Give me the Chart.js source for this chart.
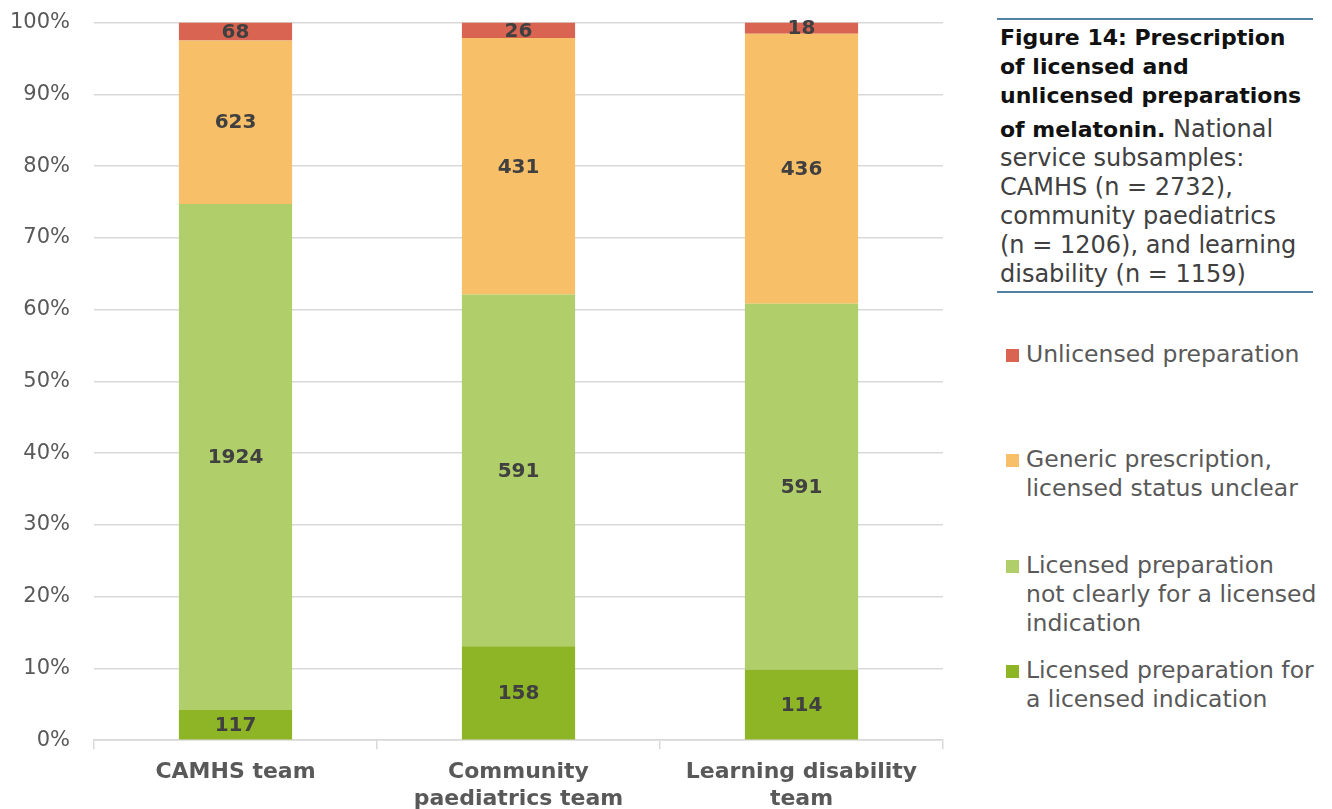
<!DOCTYPE html>
<html>
<head>
<meta charset="utf-8">
<script src="https://cdn.jsdelivr.net/npm/chart.js@4/dist/chart.umd.min.js"></script>
<style>
  html, body { margin: 0; padding: 0; background: #fff; overflow: hidden; }
  body { width: 1332px; height: 809px; position: relative; font-family: "DejaVu Sans", sans-serif; }
  #wrap { position: absolute; left: 0; top: -14px; width: 960px; height: 836px; }
  #caption { position: absolute; left: 997px; top: 18px; width: 313px; border-top: 2px solid #5383a2; border-bottom: 2px solid #5383a2; padding: 3px 0 2px 3px; line-height: 29px; color: #404040; font-size: 24px; white-space: nowrap; }
  #caption .head { font-size: 22px; font-weight: bold; color: #111; margin-bottom: 5px; }
  #caption b { font-size: 22px; color: #111; }
  #legend { position: absolute; left: 1006px; top: 0; }
  .item { position: absolute; left: 0; width: 330px; font-size: 23.5px; line-height: 29px; color: #595959; }
  .item span.sw { position: absolute; left: 0; top: 9px; width: 13px; height: 13px; }
  .item div { margin-left: 20px; white-space: nowrap; }
</style>
</head>
<body>
<div id="wrap"><canvas id="myChart"></canvas></div>
<div id="caption"><div class="head">Figure 14: Prescription<br>of licensed and<br>unlicensed preparations</div><b>of melatonin.</b> National<br>service subsamples:<br>CAMHS (n = 2732),<br>community paediatrics<br>(n = 1206), and learning<br>disability (n = 1159)</div>
<div id="legend"></div>
<script>
let teams = [['CAMHS team'], ['Community', 'paediatrics team'], ['Learning disability', 'team']];

// counts per team, bottom of the stack first
let licensedIndication = [117, 158, 114];
let licensedNotClear = [1924, 591, 591];
let genericUnclear = [623, 431, 436];
let unlicensed = [68, 26, 18];

let seriesNames = [
    ['Licensed preparation for', 'a licensed indication'],
    ['Licensed preparation', 'not clearly for a licensed', 'indication'],
    ['Generic prescription,', 'licensed status unclear'],
    ['Unlicensed preparation']
];
let colours = ['#8db526', '#b0ce6a', '#f7c068', '#d96452'];

let counts = [licensedIndication, licensedNotClear, genericUnclear, unlicensed];
let totals = teams.map((t, i) => counts.reduce((s, c) => s + c[i], 0));

let datasets = counts.map((c, k) => ({
    label: seriesNames[k].join(' '),
    data: c.map((v, i) => v / totals[i] * 100),
    counts: c,
    backgroundColor: colours[k],
    borderWidth: 0,
    barPercentage: 0.4,
    categoryPercentage: 1
}));

// count labels in the middle of each segment
const segmentLabels = {
    id: 'segmentLabels',
    afterDatasetsDraw(chart) {
        let ctx = chart.ctx;
        ctx.save();
        ctx.font = 'bold 20px "DejaVu Sans"';
        ctx.fillStyle = '#404040';
        ctx.textAlign = 'center';
        ctx.textBaseline = 'middle';
        chart.data.datasets.forEach((ds, k) => {
            chart.getDatasetMeta(k).data.forEach((bar, i) => {
                let p = bar.getProps(['x', 'y', 'base'], true);
                ctx.fillText(ds.counts[i], p.x, (p.y + p.base) / 2 + 1);
            });
        });
        ctx.restore();
    }
};

new Chart('myChart', {
    type: 'bar',
    data: { labels: teams, datasets: datasets },
    options: {
        responsive: true,
        maintainAspectRatio: false,
        animation: false,
        layout: { padding: { top: 0, right: 17, left: 0, bottom: 0 } },
        plugins: {
            legend: { display: false },
            tooltip: { enabled: false }
        },
        scales: {
            x: {
                stacked: true,
                grid: { offset: true, drawOnChartArea: false, drawTicks: true, tickLength: 9, color: '#d9d9d9', lineWidth: 1.5 },
                border: { color: '#d9d9d9', width: 1.5 },
                ticks: { color: '#595959', font: { family: 'DejaVu Sans', size: 22, weight: 'bold' }, padding: 10, maxRotation: 0 }
            },
            y: {
                stacked: true,
                min: 0,
                max: 100,
                afterFit: scale => { scale.width = 94; },
                grid: { color: '#d9d9d9', lineWidth: 1.5, drawTicks: false },
                border: { display: false },
                ticks: { stepSize: 10, color: '#595959', font: { family: 'DejaVu Sans', size: 21 }, padding: 24, callback: v => v + '%' }
            }
        }
    },
    plugins: [segmentLabels]
});

// legend on the right, top entry first
let legendTops = [340, 445, 551, 656];
let legend = document.getElementById('legend');
[3, 2, 1, 0].forEach((k, n) => {
    let item = document.createElement('div');
    item.className = 'item';
    item.style.top = legendTops[n] + 'px';
    item.innerHTML = '<span class="sw" style="background:' + colours[k] + '"></span><div>' + seriesNames[k].join('<br>') + '</div>';
    legend.appendChild(item);
});
</script>
</body>
</html>
